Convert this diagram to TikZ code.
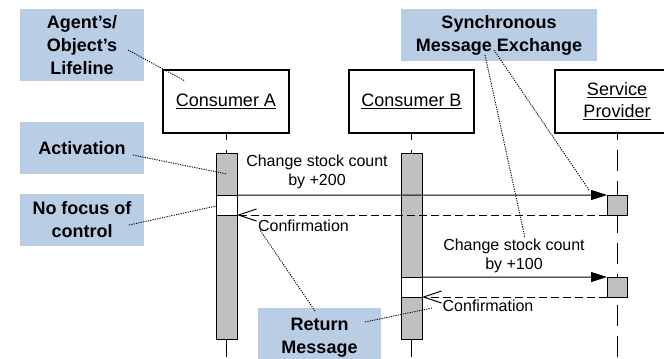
\documentclass[tikz,border=0pt]{standalone}
\usepackage{fontspec}
\setmainfont{Liberation Sans}
\usetikzlibrary{arrows.meta}
\definecolor{notefill}{RGB}{185,205,229}
\definecolor{barfill}{RGB}{192,192,192}
\begin{document}
\begin{tikzpicture}[x=1bp,y=-1bp,
  note/.style={fill=notefill, inner sep=0pt, align=center,
    font=\fontsize{18bp}{23bp}\selectfont\bfseries},
  head/.style={draw, line width=1.8bp, fill=white, inner sep=0pt, align=center,
    minimum height=63bp, font=\fontsize{18bp}{22bp}\selectfont},
  bar/.style={draw, line width=0.9bp, fill=barfill, minimum width=21bp,
    inner sep=0pt, outer sep=0pt},
  gapbar/.style={bar, fill=white},
  life/.style={line width=1bp, dash pattern=on 21bp off 10bp, dash phase=14.5bp},
  msg/.style={line width=1bp, -{Triangle[length=16bp,width=10bp]}},
  reply/.style={line width=1bp, dash pattern=on 8bp off 4bp,
    -{Straight Barb[length=18bp,width=12bp]}},
  lbl/.style={inner sep=0pt, align=center, font=\fontsize{16bp}{19bp}\selectfont},
  pointer/.style={line width=0.9bp, dash pattern=on 1.2bp off 1.2bp},
]
\useasboundingbox (0,0) rectangle (664,358);
\clip (0,0) rectangle (664,358);

% annotation boxes
\node[note, minimum width=124bp, minimum height=72bp] (nlife) at (82,45)
  {Agent’s/\\Object’s\\Lifeline};
\node[note, minimum width=124bp, minimum height=52bp] (nact) at (82,148) {Activation};
\node[note, minimum width=124bp, minimum height=52bp] (nfocus) at (82,220)
  {No focus of\\control};
\node[note, minimum width=123bp, minimum height=56bp, text depth=0pt] (nret) at (319.5,336)
  {Return\\Message};
\node[note, minimum width=196bp, minimum height=52bp] (nsync) at (499,35)
  {Synchronous\\Message Exchange};

% lifeline heads
\node[head, minimum width=126bp] (ca) at (226,101.5) {\underline{Consumer A}};
\node[head, minimum width=125bp] (cb) at (411.5,101.5) {\underline{Consumer B}};
\node[head, minimum width=124bp] (sp) at (617,101.5)
  {\underline{Service}\\\underline{Provider}};

% lifelines
\coordinate (aend) at (226,362);
\coordinate (bend) at (411.5,362);
\coordinate (send) at (617,362);
\draw[life] (ca.south) -- (aend);
\draw[life] (cb.south) -- (bend);
\draw[life] (sp.south) -- (send);

% activation bars
\node[bar, minimum height=42bp] (abar1) at (226.5,174) {};
\node[gapbar, minimum height=20bp] (agap) at (226.5,205) {};
\node[bar, minimum height=124bp] (abar2) at (226.5,277) {};
\node[bar, minimum height=124bp] (bbar1) at (411.5,215) {};
\node[gapbar, minimum height=20bp] (bgap) at (411.5,287) {};
\node[bar, minimum height=42bp] (bbar2) at (411.5,318) {};
\node[bar, minimum width=20bp, minimum height=20bp] (sp1) at (617,205) {};
\node[bar, minimum width=20bp, minimum height=20bp] (sp2) at (617,287) {};

% messages
\draw[msg] (abar1.south east) -- (sp1.north west);
\draw[reply] (sp1.south west) -- (agap.south east);
\draw[msg] (bbar1.south east) -- (sp2.north west);
\draw[reply] (sp2.south west) -- (bgap.south east);

% message labels
\node[lbl] (m1) at (317,172) {Change stock count\\by +200};
\node[lbl] (r1) at (303.5,226) {Confirmation};
\node[lbl] (m2) at (514,255.5) {Change stock count\\by +100};
\node[lbl] (r2) at (488,306) {Confirmation};

% annotation pointers
\coordinate (plife) at (185,81);
\coordinate (pact) at (227,174);
\coordinate (pfocus) at (216,206);
\coordinate (pret1) at (260,230);
\coordinate (pret2) at (432,308);
\coordinate (psync1) at (525,238);
\coordinate (psync2) at (589,190);
\draw[pointer] (128,50) -- (plife);
\draw[pointer] (133,155) -- (pact);
\draw[pointer] (129,225) -- (pfocus);
\draw[pointer] (315,311) -- (pret1);
\draw[pointer] (365,322) -- (pret2);
\draw[pointer] (485,55) -- (psync1);
\draw[pointer] (494,50) -- (psync2);
\end{tikzpicture}
\end{document}
